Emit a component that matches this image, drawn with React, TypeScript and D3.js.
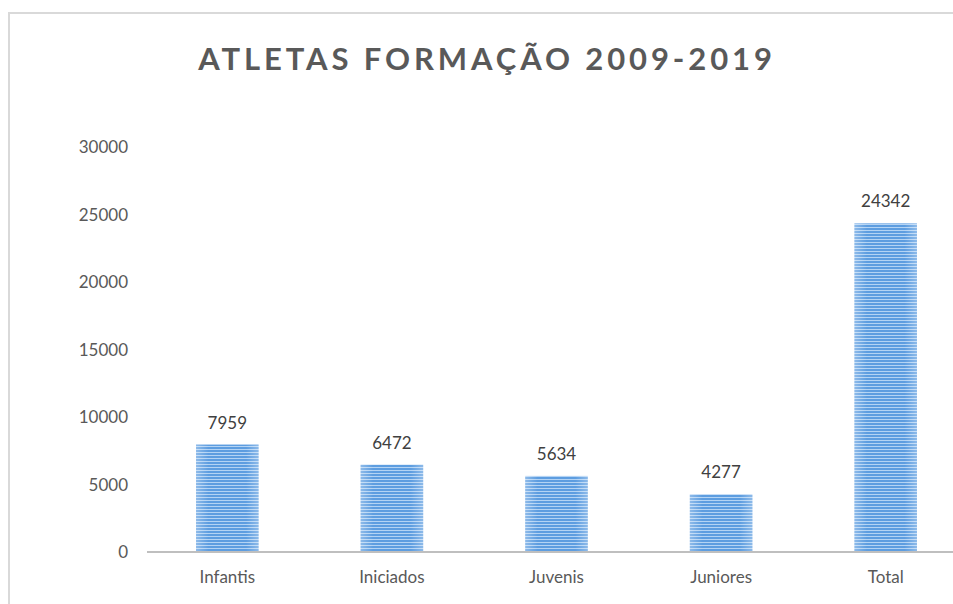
import React from "react";
import * as d3 from "d3";

const categories = ["Infantis", "Iniciados", "Juvenis", "Juniores", "Total"];
const values = [7959, 6472, 5634, 4277, 24342];
const yTicks = [0, 5000, 10000, 15000, 20000, 25000, 30000];
const title = "ATLETAS FORMAÇÃO 2009-2019";

export default function App() {
  const W = 953, H = 604;
  const x = d3.scaleBand<string>().domain(categories).range([145, 968]).paddingInner(0.62).paddingOuter(0.31);
  const y = d3.scaleLinear().domain([0, 30000]).range([552, 147]);
  const font = "Lato, 'Open Sans', sans-serif";
  return (
    <svg width={W} height={H} style={{ position: "absolute", left: 0, top: 0 }}>
      <defs>
        <pattern id="stripes" width="4" height="3" patternUnits="userSpaceOnUse">
          <rect width="4" height="3" fill="#5d9de0" />
          <rect y="2" width="4" height="1" fill="#b3d3f4" />
        </pattern>
        <linearGradient id="edge" x1="0" x2="1" y1="0" y2="0">
          <stop offset="0" stopColor="#ffffff" stopOpacity="0.3" />
          <stop offset="0.2" stopColor="#ffffff" stopOpacity="0" />
          <stop offset="0.8" stopColor="#ffffff" stopOpacity="0" />
          <stop offset="1" stopColor="#ffffff" stopOpacity="0.3" />
        </linearGradient>
      </defs>
      <rect x={0} y={0} width={W} height={H} fill="#fff" />
      <path d={`M9,${H} V13 H${W}`} fill="none" stroke="#d9d9d9" strokeWidth={2} />
      <text x={487} y={70} textAnchor="middle" fontFamily={font} fontWeight="bold" fontSize={31} letterSpacing={3.9} fill="#595959">{title}</text>
      {yTicks.map((t) => (
        <text key={t} x={128} y={y(t) + 6} textAnchor="end" fontFamily={font} fontSize={17} fill="#595959">{t}</text>
      ))}
      {categories.map((c, i) => (
        <g key={c}>
          <rect x={x(c)!} y={y(values[i])} width={x.bandwidth()} height={y(0) - y(values[i])} fill="url(#stripes)" />
          <rect x={x(c)!} y={y(values[i])} width={x.bandwidth()} height={y(0) - y(values[i])} fill="url(#edge)" />
          <text x={x(c)! + x.bandwidth() / 2} y={y(values[i]) - 16} textAnchor="middle" fontFamily={font} fontSize={17} fill="#404040">{values[i]}</text>
          <text x={x(c)! + x.bandwidth() / 2} y={583} textAnchor="middle" fontFamily={font} fontSize={17} fill="#595959">{c}</text>
        </g>
      ))}
      <line x1={147} x2={W} y1={552} y2={552} stroke="#bfbfbf" strokeWidth={2} />
    </svg>
  );
}
